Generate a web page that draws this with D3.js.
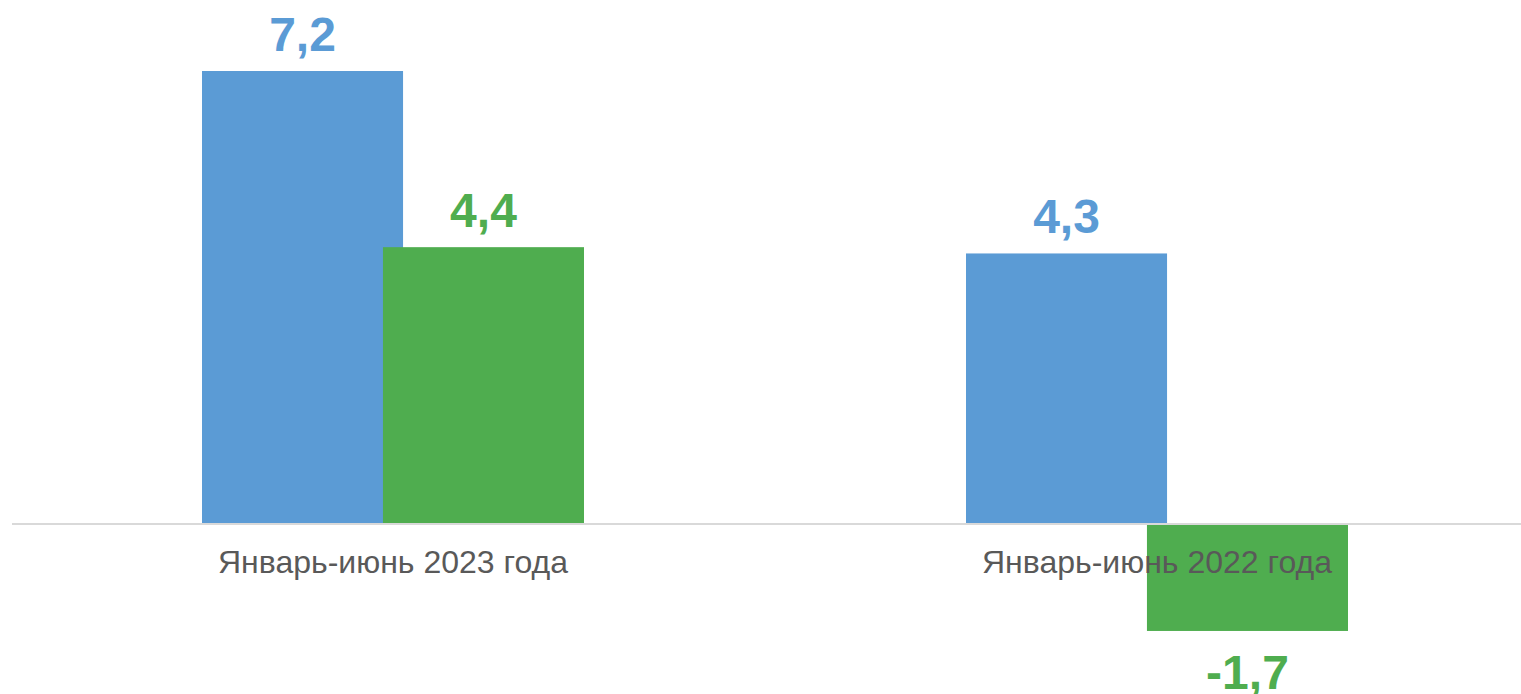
<!DOCTYPE html>
<html>
<head>
<meta charset="utf-8">
<script src="https://cdn.jsdelivr.net/npm/d3@7"></script>
<style>
  body { margin: 0; background: #fff; }
  svg { display: block; }
</style>
</head>
<body>
<svg id="chart" width="1521" height="694"></svg>
<script>
// data
const categories = ['Январь-июнь 2023 года', 'Январь-июнь 2022 года']
const seriesA = [7.2, 4.3]
const seriesB = [4.4, -1.7]
const colors = ['#5b9bd5', '#4fad4f']

const svg = d3.select('#chart')

let rows = categories.map((c, i) => ({cat: c, values: [seriesA[i], seriesB[i]]}))

let x0 = d3.scaleBand()
    .domain(categories)
    .range([11, 1539])
    .paddingInner(0.5)
    .paddingOuter(0.25)

// excel-ish overlap of 10% between the two series
let overlap = 0.1
let barW = x0.bandwidth() / (2 - overlap)
let x1 = d3.scaleLinear()
    .domain([0, 1])
    .range([0, barW * (1 - overlap)])

let y = d3.scaleLinear()
    .domain([0, 7.2])
    .range([524, 71])

// bars
let groups = svg.selectAll('g.cat')
    .data(rows)
    .enter().append('g')
    .attr('class', 'cat')
    .attr('transform', d => 'translate(' + x0(d.cat) + ',0)')

groups.selectAll('rect')
    .data(d => d.values)
    .enter().append('rect')
    .attr('x', (d, i) => x1(i))
    .attr('width', barW)
    .attr('y', d => d >= 0 ? y(d) : y(0) + 1)
    .attr('height', d => d >= 0 ? y(0) - y(d) : y(d) - y(0) - 1)
    .attr('fill', (d, i) => colors[i])

// zero line
svg.append('line')
    .attr('x1', x0.range()[0] + 1)
    .attr('x2', x0.range()[1])
    .attr('y1', y(0))
    .attr('y2', y(0))
    .attr('stroke', '#d9d9d9')
    .attr('stroke-width', 2)

// category labels
let xAxis = d3.axisBottom(x0).tickSize(0).tickPadding(0)
let ax = svg.append('g')
    .attr('transform', 'translate(0,' + (y(0) + 49) + ')')
    .call(xAxis)
ax.select('.domain').remove()
ax.selectAll('text')
    .attr('dy', 0)
    .attr('font-family', 'Liberation Sans, Arial, sans-serif')
    .attr('font-size', 32)
    .attr('fill', '#595959')

// value labels
let fmt = v => String(v).replace('.', ',')
groups.selectAll('text.val')
    .data(d => d.values)
    .enter().append('text')
    .attr('class', 'val')
    .attr('x', (d, i) => x1(i) + barW / 2)
    .attr('y', d => d >= 0 ? y(d) - 20 : y(d) + 58)
    .attr('text-anchor', 'middle')
    .attr('font-family', 'Liberation Sans, Arial, sans-serif')
    .attr('font-weight', 'bold')
    .attr('font-size', 48)
    .attr('fill', (d, i) => colors[i])
    .text(d => fmt(d))
</script>
</body>
</html>
